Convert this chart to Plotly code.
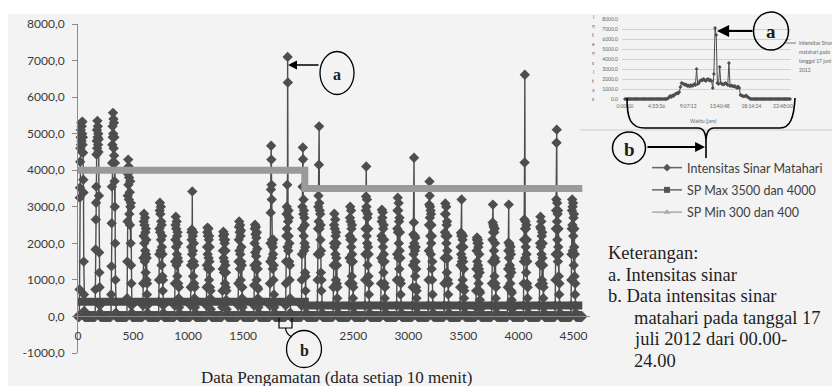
import plotly.graph_objects as go

W, H = 832, 386

# ---------------- main chart data ----------------
# daytime readings of each day
DAY_VALUES = [
    [740, 3250, 3520, 4230, 4600, 4900, 5100, 4700, 5300, 4800, 5200, 4500, 5000, 5330, 4700, 4900, 4480, 3740, 3390, 1500, 600, 150],
    [740, 1830, 2650, 3110, 3550, 4430, 4800, 5100, 4600, 5350, 4900, 5200, 4700, 5000, 4500, 4850, 3300, 1750, 1200, 800, 300, 100],
    [600, 1370, 2550, 3550, 4200, 4700, 5200, 4900, 5570, 5000, 5400, 4600, 5300, 4400, 4900, 3700, 3000, 4200, 2000, 1000, 400, 100],
    [500, 1500, 2600, 3300, 3900, 4290, 3600, 4100, 3200, 3800, 2800, 4000, 3400, 2500, 3700, 3000, 2000, 3100, 1400, 900, 300, 100],
    [300, 900, 1600, 2200, 2600, 2810, 2000, 2500, 1500, 2700, 1800, 2300, 1200, 2400, 1700, 2100, 1000, 1600, 600, 900, 300, 100],
    [400, 1000, 1700, 2400, 2900, 3110, 2300, 2800, 1800, 3000, 2100, 2600, 1400, 2500, 1900, 2200, 1100, 1700, 700, 1000, 300, 100],
    [300, 900, 1500, 2100, 2500, 2730, 1900, 2400, 1400, 2600, 1700, 2200, 1100, 2300, 1600, 2000, 900, 1500, 500, 800, 250, 100],
    [300, 800, 1400, 1900, 2300, 2100, 2380, 1700, 3420, 1500, 2200, 1800, 1100, 2300, 1500, 2000, 900, 1400, 500, 800, 250, 100],
    [300, 800, 1400, 1900, 2300, 2430, 1700, 2200, 1300, 2400, 1600, 2100, 1000, 2200, 1500, 1900, 800, 1300, 500, 700, 200, 100],
    [250, 700, 1300, 1800, 2200, 2320, 1600, 2100, 1200, 2250, 1500, 2000, 900, 2100, 1400, 1800, 800, 1200, 450, 700, 200, 80],
    [300, 900, 1500, 2100, 2450, 2600, 1800, 2300, 1300, 2500, 1700, 2200, 1000, 2350, 1500, 1900, 800, 1400, 500, 800, 250, 100],
    [300, 850, 1400, 2000, 2400, 2510, 1750, 2250, 1300, 2450, 1650, 2150, 1000, 2300, 1450, 1850, 800, 1300, 500, 750, 250, 100],
    [300, 900, 1500, 2000, 2840, 3470, 4670, 4290, 3600, 3200, 2100, 1600, 2000, 1300, 1900, 1700, 2100, 1000, 1400, 600, 250, 100],
    [300, 900, 1500, 2200, 2800, 3000, 2400, 3600, 1900, 7100, 6400, 2600, 1800, 2900, 2200, 2700, 1500, 2000, 1000, 1400, 500, 100],
    [300, 1000, 1700, 2400, 3000, 3550, 4620, 4300, 2800, 3200, 2200, 2900, 1800, 2700, 2000, 2500, 1200, 1900, 700, 1100, 300, 100],
    [300, 1000, 1700, 2400, 3000, 3300, 2600, 4150, 5200, 3100, 2400, 2900, 1700, 2800, 2100, 2500, 1200, 1800, 700, 1000, 300, 100],
    [300, 800, 1400, 2000, 2500, 2810, 1900, 2400, 1400, 2650, 1700, 2200, 1000, 2300, 1600, 2000, 900, 1400, 500, 800, 250, 100],
    [300, 900, 1600, 2200, 2700, 3000, 2100, 2600, 1500, 2900, 1900, 2400, 1100, 2500, 1700, 2100, 900, 1500, 500, 800, 250, 100],
    [300, 1000, 1700, 2400, 2900, 3280, 4100, 3000, 2200, 3200, 2000, 2700, 1400, 2800, 1900, 2400, 1100, 1700, 600, 900, 300, 100],
    [300, 900, 1600, 2200, 2600, 2920, 2100, 2700, 1500, 2850, 1900, 2400, 1200, 2500, 1700, 2100, 900, 1500, 500, 800, 250, 100],
    [300, 1000, 1700, 2400, 2900, 3250, 2300, 2900, 1600, 3100, 2000, 2600, 1300, 2700, 1800, 2300, 1000, 1600, 600, 900, 300, 100],
    [300, 800, 1400, 1900, 2240, 1700, 2570, 4340, 2000, 1500, 2200, 1800, 1100, 2150, 1500, 1900, 800, 1300, 500, 700, 250, 100],
    [300, 1000, 1800, 2500, 3060, 3690, 3300, 2700, 3000, 2200, 2900, 1700, 2800, 2000, 2500, 1300, 2200, 1000, 1500, 600, 300, 100],
    [300, 900, 1600, 2300, 2800, 3090, 2200, 2800, 1600, 3000, 2000, 2500, 1200, 2600, 1800, 2200, 1000, 1600, 600, 900, 300, 100],
    [300, 800, 1400, 1900, 2290, 1700, 2200, 3200, 1500, 2250, 1600, 2100, 1000, 2200, 1500, 1900, 800, 1300, 500, 700, 250, 100],
    [250, 700, 1300, 1800, 2100, 2160, 1500, 2000, 1100, 2100, 1400, 1900, 900, 2000, 1300, 1700, 700, 1200, 450, 650, 200, 80],
    [300, 900, 1500, 2100, 2570, 3060, 2300, 2500, 1500, 2450, 1800, 2300, 1100, 2400, 1600, 2000, 900, 1500, 500, 800, 250, 100],
    [300, 800, 1300, 1800, 2020, 3060, 1600, 2000, 1100, 1950, 1400, 1800, 900, 1900, 1300, 1700, 700, 1200, 450, 650, 200, 80],
    [300, 900, 1500, 2100, 2650, 4210, 6610, 2400, 1600, 2600, 1900, 2400, 1200, 2500, 1700, 2100, 900, 1500, 500, 800, 250, 100],
    [300, 850, 1450, 2000, 2450, 2730, 1900, 2400, 1400, 2600, 1700, 2200, 1000, 2300, 1600, 2000, 900, 1400, 500, 800, 250, 100],
    [300, 1000, 1700, 2400, 2900, 3200, 4750, 5110, 2600, 3100, 2100, 2800, 1500, 2900, 1900, 2400, 1100, 1700, 600, 900, 300, 100],
    [300, 1000, 1700, 2400, 2900, 3200, 2500, 3000, 1800, 3100, 2200, 2700, 1400, 2800, 1900, 2400, 1100, 1700, 600, 900, 300, 100],
]
LEAD_ZEROS = 7            # zero readings before the first morning
NIGHT_SAMPLES = 50        # zero readings each night
LAST_NIGHT_SAMPLES = 29
OBS_PER_SAMPLE = 2        # observation-number step between plotted values

SP_MAX_X = [0, 2060, 2060, 4580]
SP_MAX_Y = [4000, 4000, 3500, 3500]
SP_MIN_X = [0, 2060, 2060, 4580]
SP_MIN_Y = [400, 400, 300, 300]

X_TICKS = [0, 500, 1000, 1500, 2000, 2500, 3000, 3500, 4000, 4500]
X_TICK_TEXT = ["0", "500", "1000", "1500", "", "2500", "3000", "3500", "4000", "4500"]
Y_TICKS = [-1000, 0, 1000, 2000, 3000, 4000, 5000, 6000, 7000, 8000]
Y_TICK_TEXT = ["-1000,0", "0,0", "1000,0", "2000,0", "3000,0", "4000,0",
               "5000,0", "6000,0", "7000,0", "8000,0"]

# ---------------- inset: one day, 10-min readings from 06:00 ----------------
INSET_NIGHT_BEFORE = 36
INSET_DAY = [0, 50, 150, 300, 200, 350, 300, 450, 500, 600, 550, 700,
             1200, 1600, 1550, 1500, 1400, 1450, 1300, 1350, 1250, 1400, 1300, 1350,
             1500, 1400, 3000, 1500, 1600, 1800, 1900, 1850, 2000, 1900, 1800, 1950,
             2000, 1850, 1900, 1800, 1100, 2500, 7100, 6400, 1600, 1500, 3200, 1600,
             1500, 1450, 1500, 1600, 1500, 1400, 3600, 1300, 1350, 1300, 1250, 1300,
             1200, 1100, 1250, 1100, 400, 350, 300, 250, 300, 350, 200, 150, 50]
INSET_NIGHT_AFTER = 35
INSET_X_TICKS = [0, 4.56, 9.12, 13.68, 18.24, 22.8]
INSET_X_TEXT = ["0:00:00", "4:33:36", "9:07:12", "13:40:48", "18:14:24", "22:48:00"]
INSET_Y_TICKS = [0, 1000, 2000, 3000, 4000, 5000, 6000, 7000, 8000]
INSET_Y_TEXT = ["0.0", "1000.0", "2000.0", "3000.0", "4000.0", "5000.0", "6000.0", "7000.0", "8000.0"]

# ---------------- build series ----------------
series = [0] * LEAD_ZEROS
for k, vals in enumerate(DAY_VALUES):
    series += vals
    series += [0] * (NIGHT_SAMPLES if k < len(DAY_VALUES) - 1 else LAST_NIGHT_SAMPLES)
obs = [i * OBS_PER_SAMPLE for i in range(len(series))]

inset_vals = [0] * INSET_NIGHT_BEFORE + INSET_DAY + [0] * INSET_NIGHT_AFTER
inset_hours = [i / 6 for i in range(len(inset_vals))]


def PX(x):  # page pixel -> paper fraction
    return x / W


def PY(y):
    return 1 - y / H


DARK = "#4e4e4e"
fig = go.Figure()

fig.add_trace(go.Scatter(x=obs, y=series, mode="lines+markers",
                         line=dict(color=DARK, width=1.4),
                         marker=dict(symbol="diamond", size=8, color=DARK),
                         cliponaxis=False, showlegend=False, hoverinfo="skip"))
fig.add_trace(go.Scatter(x=SP_MAX_X, y=SP_MAX_Y, mode="lines",
                         line=dict(color="#9a9a9a", width=7), showlegend=False))
fig.add_trace(go.Scatter(x=SP_MIN_X, y=SP_MIN_Y, mode="lines",
                         line=dict(color="#4a4a4a", width=8), showlegend=False))

# legend entries
fig.add_trace(go.Scatter(x=[None], y=[None], mode="lines+markers", name="Intensitas Sinar Matahari",
                         line=dict(color="#666", width=1.5), marker=dict(symbol="diamond", size=6, color="#555"),
                         legendgroup="a"))
fig.add_trace(go.Scatter(x=[None], y=[None], mode="lines+markers", name="SP Max 3500 dan 4000",
                         line=dict(color="#666", width=1.5), marker=dict(symbol="square", size=6, color="#555"),
                         legendgroup="b"))
fig.add_trace(go.Scatter(x=[None], y=[None], mode="lines+markers", name="SP Min 300 dan 400",
                         line=dict(color="#aaa", width=1.5), marker=dict(symbol="triangle-up", size=6, color="#aaa"),
                         legendgroup="c"))

# inset trace
fig.add_trace(go.Scatter(x=inset_hours, y=inset_vals, mode="lines+markers", xaxis="x2", yaxis="y2",
                         line=dict(color=DARK, width=1),
                         marker=dict(symbol="diamond", size=3, color=DARK),
                         cliponaxis=False, showlegend=False))

TICKFONT = dict(family="Lato", size=12, color="#3a3a3a")
SMALL = dict(family="Lato", size=5, color="#666666")

fig.update_layout(
    width=W, height=H,
    margin=dict(l=0, r=0, t=0, b=0, pad=0, autoexpand=False),
    paper_bgcolor="#f3f3f3", plot_bgcolor="rgba(0,0,0,0)",
    xaxis=dict(domain=[PX(78), PX(590)], range=[0, 4650], anchor="free", position=PY(316.4),
               showline=True, linecolor="#8a8a8a", linewidth=1, ticks="",
               tickvals=X_TICKS, ticktext=X_TICK_TEXT, tickfont=TICKFONT, automargin=False,
               ticklabelstandoff=8, showgrid=False, zeroline=False),
    yaxis=dict(domain=[PY(353), PY(24)], range=[-1000, 8000], anchor="x",
               showline=True, linecolor="#8a8a8a", linewidth=1, ticks="outside", ticklen=5,
               tickcolor="#8a8a8a", tickvals=Y_TICKS, ticktext=Y_TICK_TEXT, tickfont=TICKFONT,
               automargin=False, ticklabelstandoff=5, showgrid=False, zeroline=False),
    xaxis2=dict(domain=[PX(622), PX(791)], range=[-0.43, 23.96], anchor="y2",
                showline=False, ticks="", tickvals=INSET_X_TICKS, ticktext=INSET_X_TEXT,
                tickfont=SMALL, ticklabelstandoff=3, showgrid=False, zeroline=False, automargin=False),
    yaxis2=dict(domain=[PY(99), PY(19)], range=[0, 8000], anchor="x2",
                showline=False, ticks="", tickvals=INSET_Y_TICKS, ticktext=INSET_Y_TEXT,
                tickfont=SMALL, ticklabelstandoff=3, showgrid=True, gridcolor="#d2d2d2",
                gridwidth=0.8, zeroline=False, automargin=False),
    legend=dict(x=PX(647), y=PY(153), xanchor="left", yanchor="top",
                bgcolor="rgba(0,0,0,0)", font=dict(family="Lato", size=12.5, color="#404040"),
                itemwidth=30, tracegroupgap=3),
    showlegend=True,
)

shapes = []
# white border of the scanned picture (top and left)
shapes.append(dict(type="rect", xref="paper", yref="paper", x0=0, x1=1, y0=PY(14), y1=1,
                   fillcolor="white", line=dict(width=0), layer="above"))
shapes.append(dict(type="rect", xref="paper", yref="paper", x0=0, x1=PX(8), y0=0, y1=1,
                   fillcolor="white", line=dict(width=0), layer="above"))
# bottom border of inset picture
shapes.append(dict(type="line", xref="paper", yref="paper", x0=PX(580), x1=1, y0=PY(130), y1=PY(130),
                   line=dict(color="#cdcdcd", width=1)))


def ellipse(cx, cy, rx, ry, w=1.3):
    return dict(type="circle", xref="paper", yref="paper",
                x0=PX(cx - rx), x1=PX(cx + rx), y0=PY(cy + ry), y1=PY(cy - ry),
                line=dict(color="black", width=w), fillcolor="rgba(0,0,0,0)")


def P(x, y):
    return f"{PX(x):.5f},{PY(y):.5f}"


shapes.append(ellipse(337, 73, 17, 21.5))
shapes.append(ellipse(304, 349, 17.5, 18.5))
shapes.append(ellipse(771, 31, 17.5, 19, 1.5))
shapes.append(ellipse(629, 148, 16.5, 16, 1.5))

# main bracket b
shapes.append(dict(type="path", xref="paper", yref="paper",
                   path=f"M {P(279,318)} L {P(279,328)} L {P(292,328)} L {P(292,318)}",
                   line=dict(color="black", width=1.2)))
shapes.append(dict(type="path", xref="paper", yref="paper",
                   path=f"M {P(285.5,328)} Q {P(286,334)} {P(292,337)}",
                   line=dict(color="black", width=1.2)))
# inset brace b
shapes.append(dict(type="path", xref="paper", yref="paper",
                   path=(f"M {P(627,98)} C {P(627,118)} {P(630,128)} {P(645,128)} L {P(698,128)} "
                         f"C {P(704,128)} {P(706,134)} {P(706,142)} L {P(706,158)} "
                         f"M {P(706,142)} C {P(706,134)} {P(708,128)} {P(714,128)} L {P(780,128)} "
                         f"C {P(790,128)} {P(794,118)} {P(795,98)}"),
                   line=dict(color="black", width=1.6)))
# inset legend symbol
shapes.append(dict(type="line", xref="paper", yref="paper", x0=PX(785), x1=PX(796),
                   y0=PY(43), y1=PY(43), line=dict(color="#777", width=1)))

annotations = []


def txt(x, y, s, size, family="Liberation Serif", color="#1e1e1e", xanchor="left", bold=False):
    annotations.append(dict(xref="paper", yref="paper", x=PX(x), y=PY(y), text=(f"<b>{s}</b>" if bold else s),
                            showarrow=False, xanchor=xanchor, yanchor="middle",
                            font=dict(family=family, size=size, color=color)))


def arrow(x_tip, y_tip, ax, width=1.5, size=1.0):
    annotations.append(dict(xref="paper", yref="paper", x=PX(x_tip), y=PY(y_tip), text="",
                            showarrow=True, ax=ax, ay=0, axref="pixel", ayref="pixel",
                            arrowhead=2, arrowsize=size, arrowwidth=width, arrowcolor="black"))


txt(337, 74, "a", 16, bold=True, xanchor="center")
txt(304, 350, "b", 16, bold=True, xanchor="center")
txt(771, 32, "a", 19, bold=True, xanchor="center")
txt(629, 149, "b", 19, bold=True, xanchor="center")
arrow(288, 65, 32, 1.5, 1.2)
arrow(717, 31, 37, 2.2, 1.1)
arrow(705, 147, -59, 1.8, 1.1)

# axis title of main chart
txt(336, 377, "Data Pengamatan (data setiap 10 menit)", 17, xanchor="center")

# keterangan
KET = ["Keterangan:", "a. Intensitas sinar", "b. Data intensitas sinar",
       "matahari pada tanggal 17", "juli 2012 dari 00.00-", "24.00"]
KET_X = [606, 606, 606, 632, 632, 632]
for i, s in enumerate(KET):
    txt(KET_X[i], 253 + 21.6 * i, s, 18.5)

# inset labels
txt(703, 121, "Waktu (jam)", 5, family="Lato", color="#666", xanchor="center")
for i, ch in enumerate("Intensitas"):
    txt(593, 17 + 9.1 * i, ch, 5, family="Lato", color="#666", xanchor="center")
INSET_LEG = ["Intensitas Sinar", "matahari pada", "tanggal 17 juni", "2012"]
for i, s in enumerate(INSET_LEG):
    txt(797, 43 + 9 * i, s, 5, family="Lato", color="#666")

fig.update_layout(shapes=shapes, annotations=annotations)
fig.write_html(
    "out.html",
    config={"displayModeBar": False},
    post_script=("document.documentElement.style.margin='0';document.body.style.margin='0';"
                 "document.body.style.padding='0';document.documentElement.style.overflow='hidden';"
                 "document.body.style.overflow='hidden';"),
)
